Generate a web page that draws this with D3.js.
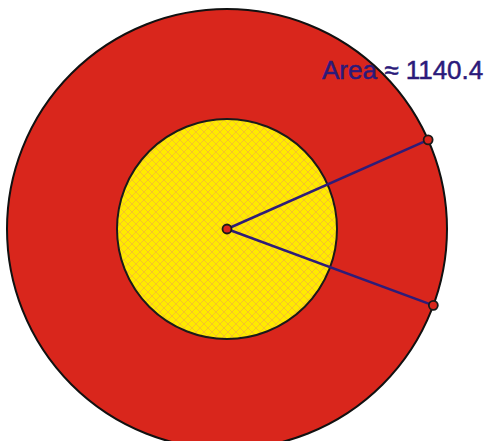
<!DOCTYPE html>
<html>
<head>
<meta charset="utf-8">
<script src="https://cdn.jsdelivr.net/npm/d3@7"></script>
<style>
  html, body { margin: 0; padding: 0; background: #ffffff; }
  svg { display: block; }
</style>
</head>
<body>
<div id="chart"></div>
<script>
// ---- data (in geometric units) ----
const center = [0, 0];
const outerRadius = [22];
const innerRadius = [11];
const pointAngles = [23.9, -20.3];   // degrees, points on the outer circle
const labelText = ["Area \u2248 1140.4"];
const labelPos = [9.5, 15.0];        // data coords of label start (baseline)

const W = 487, H = 441;
const x = d3.scaleLinear().domain([-22.7, 26.0]).range([0, W]);
const y = d3.scaleLinear().domain([22.9, -21.2]).range([0, H]);
const k = x(1) - x(0);

const svg = d3.select("#chart").append("svg").attr("width", W).attr("height", H);

const defs = svg.append("defs");
const pat = defs.append("pattern")
  .attr("id", "hatch").attr("patternUnits", "userSpaceOnUse")
  .attr("width", 8).attr("height", 8);
pat.append("rect").attr("width", 8).attr("height", 8).attr("fill", "#ffea00");
pat.append("path").attr("d", "M0,0 L8,8 M8,0 L0,8 M-1,7 L1,9 M7,-1 L9,1 M-1,1 L1,-1 M7,9 L9,7")
  .attr("stroke", "#eea848").attr("stroke-width", 1).attr("stroke-opacity", 0.6);

const cx = x(center[0]), cy = y(center[1]);

svg.append("circle").attr("cx", cx).attr("cy", cy).attr("r", outerRadius[0] * k)
  .attr("fill", "#d9261c").attr("stroke", "#111").attr("stroke-width", 2);

svg.append("circle").attr("cx", cx).attr("cy", cy).attr("r", innerRadius[0] * k)
  .attr("fill", "url(#hatch)").attr("stroke", "#1a1a1a").attr("stroke-width", 2);

const pts = pointAngles.map(a => {
  const t = a * Math.PI / 180;
  return [center[0] + outerRadius[0] * Math.cos(t), center[1] + outerRadius[0] * Math.sin(t)];
});

const line = d3.line().x(d => x(d[0])).y(d => y(d[1]));
svg.append("path").attr("d", line([pts[0], center, pts[1]]))
  .attr("fill", "none").attr("stroke", "#2e1c78").attr("stroke-width", 2.5)
  .attr("stroke-linejoin", "round");

svg.selectAll("circle.pt").data([center, ...pts]).enter().append("circle")
  .attr("class", "pt")
  .attr("cx", d => x(d[0])).attr("cy", d => y(d[1])).attr("r", 4.5)
  .attr("fill", "#d9261c").attr("stroke", "#1a1a1a").attr("stroke-width", 1.8);

svg.append("text").attr("x", x(labelPos[0])).attr("y", y(labelPos[1]))
  .attr("font-family", "Liberation Sans, Arial, sans-serif")
  .attr("font-size", 26).attr("fill", "#2b1a7a")
  .attr("stroke", "#2b1a7a").attr("stroke-width", 0.5)
  .text(labelText[0]);
</script>
</body>
</html>
